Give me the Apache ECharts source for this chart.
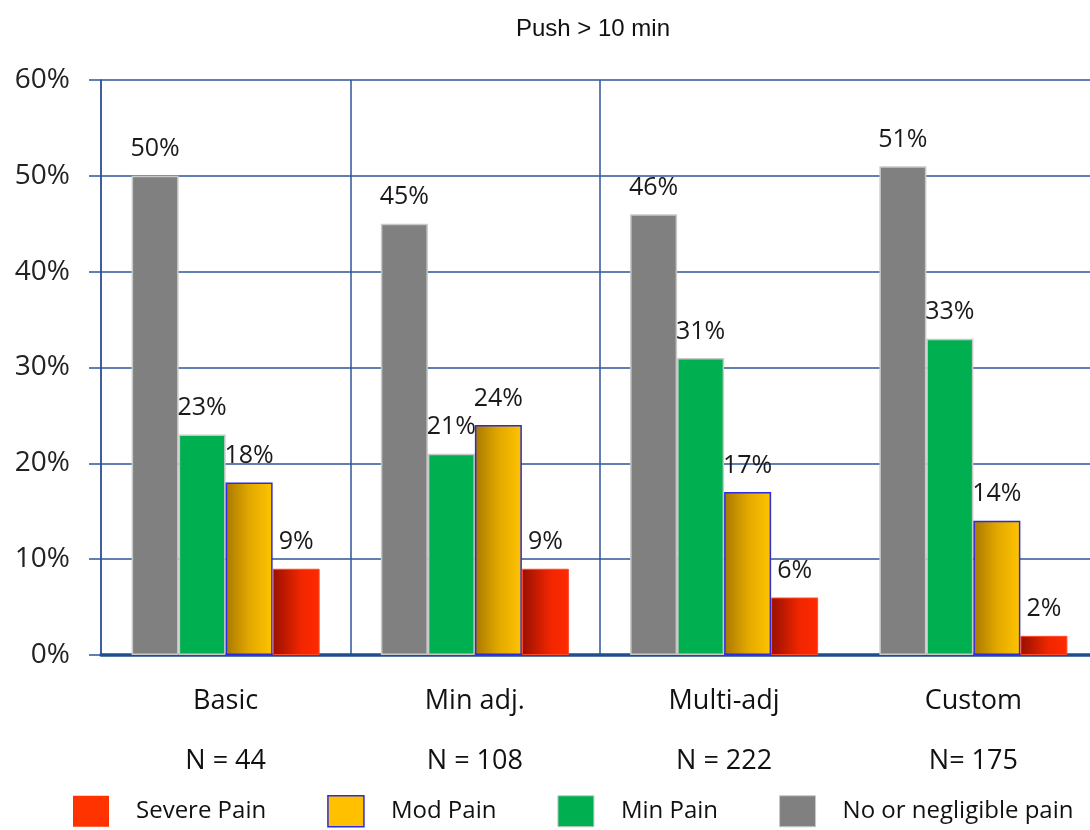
<!DOCTYPE html>
<html>
<head>
<meta charset="utf-8">
<script src="https://cdn.jsdelivr.net/npm/echarts@6/dist/echarts.min.js"></script>
<style>
  html, body { margin: 0; padding: 0; background: #fff; overflow: hidden; }
  /* the plot area runs slightly past the right edge of the window */
  #chart { width: 1098px; height: 830px; }
</style>
</head>
<body>
<div id="chart"></div>
<script>
// Pain level shares per chair type, pushing longer than 10 minutes
const categories = ['Basic', 'Min adj.', 'Multi-adj', 'Custom'];
const sampleSizes = ['N = 44', 'N = 108', 'N = 222', 'N= 175'];
const noPain = [50, 45, 46, 51];
const minPain = [23, 21, 31, 33];
const modPain = [18, 24, 17, 14];
const severePain = [9, 9, 6, 2];
const yTicks = [0, 10, 20, 30, 40, 50, 60];

const FONT = '"Open Sans", "Noto Sans", sans-serif';
const gridBlue = '#2F5597';

const labelStyle = {
  show: true,
  position: 'top',
  distance: 14,
  formatter: '{c}%',
  fontFamily: FONT,
  fontSize: 25,
  color: '#1a1a1a'
};

const yellowFill = new echarts.graphic.LinearGradient(0, 0, 1, 0, [
  { offset: 0, color: '#A87800' },
  { offset: 0.5, color: '#E2A800' },
  { offset: 1, color: '#FFC400' }
]);
const redFill = new echarts.graphic.LinearGradient(0, 0, 1, 0, [
  { offset: 0, color: '#981000' },
  { offset: 0.6, color: '#F02600' },
  { offset: 1, color: '#FF2A00' }
]);

const chart = echarts.init(document.getElementById('chart'), null, { renderer: 'canvas' });

chart.setOption({
  backgroundColor: '#ffffff',
  animation: false,
  title: {
    text: 'Push > 10 min',
    left: 588,
    top: 12,
    textAlign: 'center',
    textStyle: { fontFamily: '"Liberation Sans", Arial, sans-serif', fontSize: 24, fontWeight: 'normal', color: '#111' }
  },
  legend: {
    left: 73,
    top: 795,
    padding: 0,
    icon: 'rect',
    itemWidth: 36,
    itemHeight: 31,
    itemGap: 61,
    data: [
      { name: 'Severe Pain', itemStyle: { color: '#FF3300', borderWidth: 0 } },
      { name: 'Mod Pain', itemStyle: { color: '#FFC000', borderColor: '#2B2BE0', borderWidth: 1.5 } },
      { name: 'Min Pain', itemStyle: { color: '#00B050', borderColor: '#C8C8C8', borderWidth: 1 } },
      { name: 'No or negligible pain', itemStyle: { color: '#808080', borderColor: '#C8C8C8', borderWidth: 1 } }
    ],
    textStyle: { fontFamily: FONT, fontSize: 24, color: '#111', padding: [0, 0, 0, 22] }
  },
  grid: { left: 101, right: 0, top: 80, height: 575, containLabel: false },
  xAxis: {
    type: 'category',
    data: categories,
    axisLine: { show: true, lineStyle: { color: '#1F4E8C', width: 3.5 } },
    axisTick: { show: false },
    splitLine: {
      show: true,
      interval: function (index) { return index < 3; },
      lineStyle: { color: gridBlue, width: 1.5 }
    },
    axisLabel: {
      margin: 16,
      fontFamily: FONT,
      fontSize: 27,
      color: '#111',
      lineHeight: 60,
      formatter: function (value, idx) { return value + '\n' + sampleSizes[idx]; }
    }
  },
  yAxis: {
    type: 'value',
    min: yTicks[0],
    max: yTicks[yTicks.length - 1],
    interval: 10,
    axisLine: { show: true, lineStyle: { color: gridBlue, width: 1.5 } },
    axisTick: { show: true, length: 12, lineStyle: { color: gridBlue, width: 1.5 } },
    splitLine: { show: true, lineStyle: { color: gridBlue, width: 1.5 } },
    axisLabel: {
      margin: 31,
      fontFamily: FONT,
      fontSize: 28,
      color: '#222',
      formatter: '{value}%'
    }
  },
  series: [
    {
      name: 'No or negligible pain',
      type: 'bar',
      data: noPain,
      barWidth: 47,
      barGap: '0%',
      itemStyle: { color: '#808080', borderColor: '#C8C8C8', borderWidth: 1.5 },
      label: labelStyle
    },
    {
      name: 'Min Pain',
      type: 'bar',
      data: minPain,
      barWidth: 47,
      barGap: '0%',
      itemStyle: { color: '#00B050', borderColor: '#C8C8C8', borderWidth: 1.5 },
      label: labelStyle
    },
    {
      name: 'Mod Pain',
      type: 'bar',
      data: modPain,
      barWidth: 47,
      barGap: '0%',
      itemStyle: { color: yellowFill, borderColor: '#2B2BE0', borderWidth: 1.5 },
      label: labelStyle
    },
    {
      name: 'Severe Pain',
      type: 'bar',
      data: severePain,
      barWidth: 47,
      barGap: '0%',
      itemStyle: { color: redFill, borderColor: '#FF4A2A', borderWidth: 1 },
      label: labelStyle
    }
  ]
});
</script>
</body>
</html>
